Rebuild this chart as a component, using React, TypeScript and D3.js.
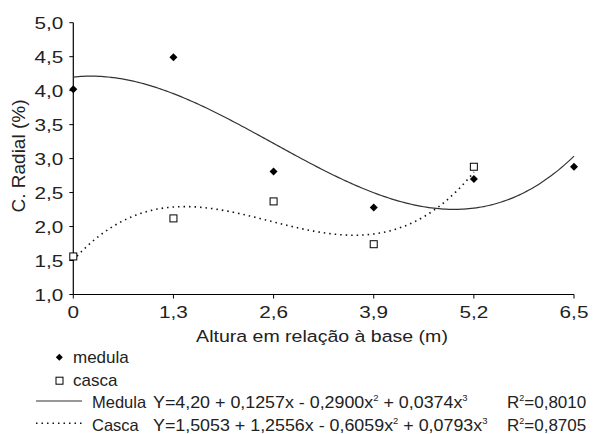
import React from "react";
import * as d3 from "d3";

const heights = [0, 1.3, 2.6, 3.9, 5.2, 6.5];
const medula = [4.02, 4.49, 2.81, 2.28, 2.7, 2.88];
const casca = [1.56, 2.12, 2.37, 1.74, 2.88];
const xTicks = [0, 1.3, 2.6, 3.9, 5.2, 6.5];
const yTicks = [1.0, 1.5, 2.0, 2.5, 3.0, 3.5, 4.0, 4.5, 5.0];
const medulaCoef = [4.2, 0.1257, -0.29, 0.0374];
const cascaCoef = [1.5053, 1.2556, -0.6059, 0.0793];
const medulaRange = [0, 6.5];
const cascaRange = [0, 5.2];

const W = 595, H = 434;
const font = "'Liberation Sans', Arial, sans-serif";
const txt = "#222";

function poly(c: number[], x: number) {
  return c[0] + c[1] * x + c[2] * x * x + c[3] * x * x * x;
}

function T({ x, y, sx = 1, fs = 17, anchor = "start", children }: any) {
  return (
    <text
      transform={`translate(${x},${y}) scale(${sx},1)`}
      textAnchor={anchor}
      fontSize={fs}
      fill={txt}
    >
      {children}
    </text>
  );
}

export default function App() {
  const x = d3.scaleLinear().domain([0, 6.5]).range([73.3, 574]);
  const y = d3.scaleLinear().domain([1, 5]).range([294.5, 22.7]);
  const line = d3.line<[number, number]>().x(d => x(d[0])).y(d => y(d[1]));
  const sample = (c: number[], r: number[]) =>
    d3.range(0, 201).map(i => {
      const xv = r[0] + ((r[1] - r[0]) * i) / 200;
      return [xv, poly(c, xv)] as [number, number];
    });
  const diamond = (cx: number, cy: number, s: number) =>
    `M${cx},${cy - s}L${cx + s},${cy}L${cx},${cy + s}L${cx - s},${cy}Z`;
  const fmt = (t: number) => (t === 0 ? "0" : t.toFixed(1).replace(".", ","));
  return (
    <svg width={W} height={H} style={{ position: "absolute", left: 0, top: 0 }} fontFamily={font}>
      <rect width={W} height={H} fill="#fff" />
      {/* axes */}
      <line x1={x(0)} x2={x(0)} y1={y(5)} y2={y(1)} stroke="#000" strokeWidth={1.2} />
      <line x1={x(0)} x2={x(6.5)} y1={y(1)} y2={y(1)} stroke="#000" strokeWidth={1.2} />
      {yTicks.map(t => (
        <g key={"y" + t}>
          <line x1={x(0) - 4} x2={x(0)} y1={y(t)} y2={y(t)} stroke="#000" />
          <T x={x(0) - 10} y={y(t) + 6} sx={1.22} anchor="end">{fmt(t)}</T>
        </g>
      ))}
      {xTicks.map(t => (
        <g key={"x" + t}>
          <line x1={x(t)} x2={x(t)} y1={y(1)} y2={y(1) + 4} stroke="#000" />
          <T x={x(t)} y={318.3} sx={1.22} anchor="middle">{fmt(t)}</T>
        </g>
      ))}
      <T x={322} y={341.5} sx={1.15} anchor="middle">Altura em relação à base (m)</T>
      <text transform="translate(25,156) rotate(-90)" textAnchor="middle" fontSize={19} fill={txt}>C. Radial (%)</text>
      {/* curves */}
      <path d={line(sample(medulaCoef, medulaRange)) || ""} fill="none" stroke="#333" strokeWidth={1.2} />
      <path d={line(sample(cascaCoef, cascaRange)) || ""} fill="none" stroke="#111" strokeWidth={1.6} strokeDasharray="1.5,4" />
      {/* points */}
      {medula.map((v, i) => (
        <path key={"m" + i} d={diamond(x(heights[i]), y(v), 4)} fill="#000" />
      ))}
      {casca.map((v, i) => (
        <rect key={"c" + i} x={x(heights[i]) - 3.5} y={y(v) - 3.5} width={7} height={7} fill="#fff" stroke="#000" strokeWidth={1} />
      ))}
      {/* legend */}
      <path d={diamond(59.3, 357.3, 3.5)} fill="#000" />
      <T x={73} y={362.7}>medula</T>
      <rect x={56} y={377.2} width={7} height={7} fill="#fff" stroke="#000" />
      <T x={73} y={385.7}>casca</T>
      <line x1={36} x2={82} y1={401} y2={401} stroke="#333" strokeWidth={1.2} />
      <T x={92} y={408} fs={16.5}>Medula</T>
      <T x={153} y={408} sx={1.05}>
        Y=4,20 + 0,1257x - 0,2900x<tspan dy={-7} fontSize={9}>2</tspan>
        <tspan dy={7}> + 0,0374x</tspan><tspan dy={-7} fontSize={9}>3</tspan>
      </T>
      <T x={507} y={408}>
        R<tspan dy={-7} fontSize={9}>2</tspan><tspan dy={7}>=0,8010</tspan>
      </T>
      <line x1={36} x2={82} y1={423.3} y2={423.3} stroke="#111" strokeWidth={1.6} strokeDasharray="1.5,4" />
      <T x={92} y={430.7} fs={16.5}>Casca</T>
      <T x={153} y={430.7} sx={1.05}>
        Y=1,5053 + 1,2556x - 0,6059x<tspan dy={-7} fontSize={9}>2</tspan>
        <tspan dy={7}> + 0,0793x</tspan><tspan dy={-7} fontSize={9}>3</tspan>
      </T>
      <T x={507} y={430.7}>
        R<tspan dy={-7} fontSize={9}>2</tspan><tspan dy={7}>=0,8705</tspan>
      </T>
    </svg>
  );
}
